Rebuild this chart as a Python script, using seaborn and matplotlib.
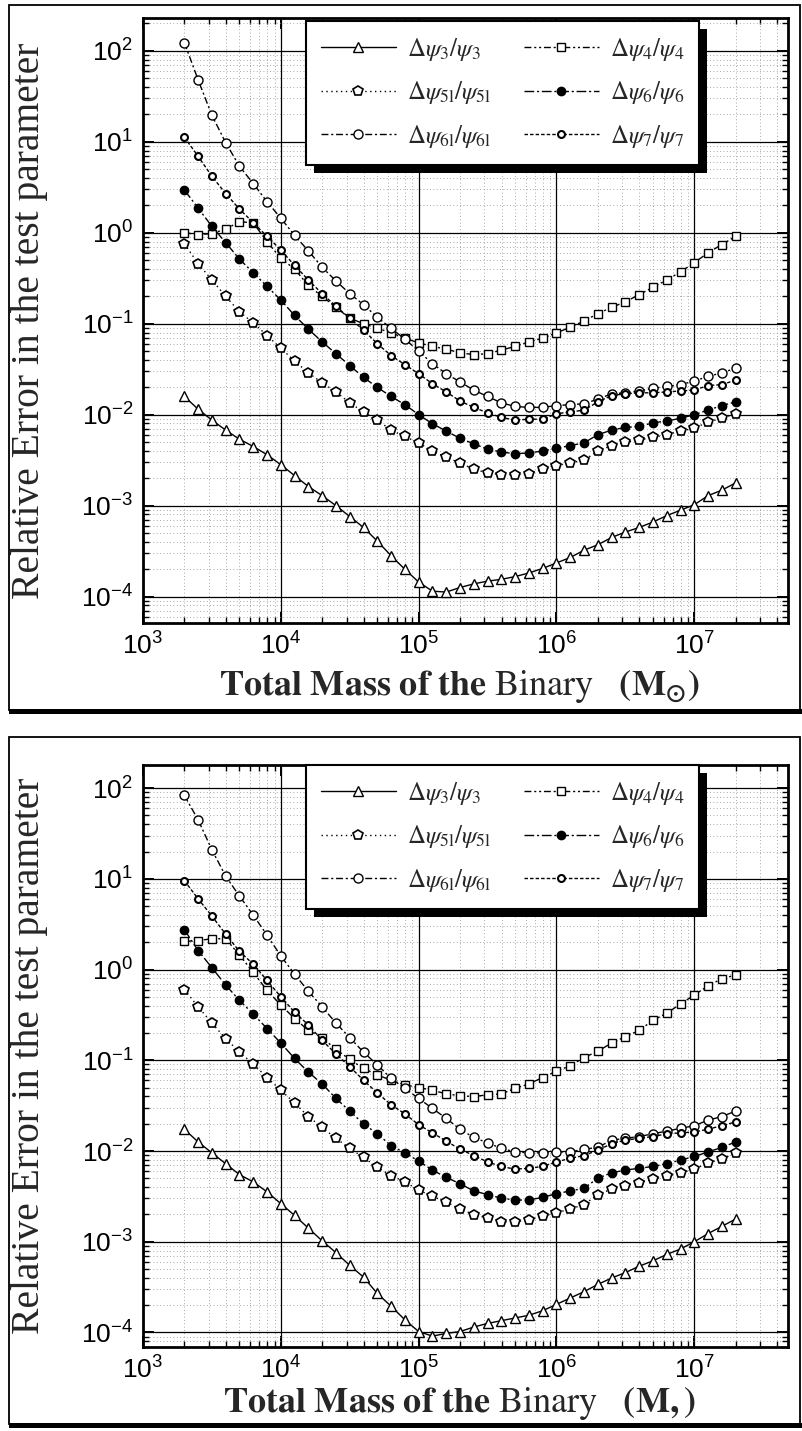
import numpy as np
import matplotlib
matplotlib.use("Agg")
import matplotlib.pyplot as plt
import seaborn as sns
from matplotlib.font_manager import FontProperties
from matplotlib.patches import Rectangle
from matplotlib.ticker import LogLocator, FixedLocator, FixedFormatter, NullFormatter

# ---------------- data (log10 of values) ----------------
mass_log10 = [3.3, 3.4, 3.5, 3.6, 3.7, 3.8, 3.9, 4.0, 4.1, 4.2, 4.3, 4.4, 4.5, 4.6,
              4.7, 4.8, 4.9, 5.0, 5.1, 5.2, 5.3, 5.4, 5.5, 5.6, 5.7, 5.8, 5.9, 6.0,
              6.1, 6.2, 6.3, 6.4, 6.5, 6.6, 6.7, 6.8, 6.9, 7.0, 7.1, 7.2, 7.3]

series_labels = [r"$\Delta\psi_3/\psi_3$", r"$\Delta\psi_4/\psi_4$",
                 r"$\Delta\psi_{5\mathrm{l}}/\psi_{5\mathrm{l}}$", r"$\Delta\psi_6/\psi_6$",
                 r"$\Delta\psi_{6\mathrm{l}}/\psi_{6\mathrm{l}}$", r"$\Delta\psi_7/\psi_7$"]

x_tick_values = [1e3, 1e4, 1e5, 1e6, 1e7]
x_tick_labels = [r"$10^{3}$", r"$10^{4}$", r"$10^{5}$", r"$10^{6}$", r"$10^{7}$"]
y_tick_values = [1e-4, 1e-3, 1e-2, 1e-1, 1e0, 1e1, 1e2]
y_tick_labels = [r"$10^{-4}$", r"$10^{-3}$", r"$10^{-2}$", r"$10^{-1}$", r"$10^{0}$", r"$10^{1}$", r"$10^{2}$"]

# top panel
psi3_top = [-1.80, -1.94, -2.06, -2.17, -2.27, -2.35, -2.44, -2.55, -2.67, -2.79, -2.89, -3.00, -3.12, -3.24,
            -3.39, -3.55, -3.70, -3.84, -3.94, -3.95, -3.90, -3.86, -3.83, -3.81, -3.78, -3.74, -3.69, -3.63,
            -3.57, -3.49, -3.43, -3.35, -3.29, -3.24, -3.18, -3.11, -3.05, -2.99, -2.89, -2.83, -2.75]
psi4_top = [0.00, -0.02, -0.01, 0.04, 0.12, 0.11, -0.10, -0.28, -0.40, -0.58, -0.70, -0.82, -0.94, -1.00,
            -1.05, -1.10, -1.16, -1.21, -1.25, -1.28, -1.32, -1.34, -1.33, -1.29, -1.25, -1.20, -1.16, -1.10,
            -1.04, -0.97, -0.89, -0.82, -0.76, -0.68, -0.60, -0.52, -0.43, -0.33, -0.22, -0.13, -0.04]
psi51_top = [-0.12, -0.34, -0.52, -0.70, -0.87, -0.99, -1.13, -1.27, -1.41, -1.54, -1.65, -1.75, -1.87, -1.97,
             -2.06, -2.17, -2.24, -2.31, -2.40, -2.47, -2.53, -2.60, -2.64, -2.66, -2.66, -2.65, -2.60, -2.56,
             -2.53, -2.50, -2.40, -2.34, -2.30, -2.28, -2.25, -2.22, -2.18, -2.15, -2.08, -2.04, -1.99]
psi6_top = [0.47, 0.27, 0.07, -0.11, -0.29, -0.44, -0.59, -0.74, -0.91, -1.06, -1.20, -1.33, -1.46, -1.59,
            -1.70, -1.80, -1.89, -2.00, -2.10, -2.18, -2.26, -2.32, -2.38, -2.41, -2.43, -2.42, -2.40, -2.37,
            -2.34, -2.31, -2.22, -2.17, -2.14, -2.13, -2.09, -2.07, -2.04, -2.00, -1.95, -1.90, -1.86]
psi61_top = [2.09, 1.68, 1.29, 0.99, 0.73, 0.54, 0.34, 0.16, -0.03, -0.20, -0.38, -0.53, -0.67, -0.79,
             -0.93, -1.05, -1.17, -1.30, -1.44, -1.55, -1.64, -1.73, -1.80, -1.87, -1.91, -1.92, -1.92, -1.90,
             -1.89, -1.88, -1.83, -1.77, -1.76, -1.74, -1.71, -1.69, -1.67, -1.63, -1.58, -1.54, -1.49]
psi7_top = [1.05, 0.84, 0.62, 0.43, 0.26, 0.11, -0.04, -0.19, -0.36, -0.52, -0.67, -0.81, -0.94, -1.07,
            -1.22, -1.35, -1.45, -1.55, -1.66, -1.75, -1.85, -1.92, -1.98, -2.03, -2.06, -2.05, -2.05, -1.99,
            -1.97, -1.95, -1.86, -1.79, -1.77, -1.76, -1.76, -1.75, -1.74, -1.73, -1.68, -1.67, -1.62]

# bottom panel
psi3_bot = [-1.76, -1.90, -2.02, -2.14, -2.26, -2.34, -2.45, -2.58, -2.71, -2.85, -2.99, -3.12, -3.26, -3.39,
            -3.57, -3.71, -3.86, -3.99, -4.04, -4.01, -3.99, -3.94, -3.90, -3.87, -3.84, -3.81, -3.76, -3.69,
            -3.62, -3.55, -3.47, -3.40, -3.34, -3.27, -3.21, -3.14, -3.08, -3.00, -2.91, -2.83, -2.75]
psi4_bot = [0.31, 0.32, 0.34, 0.34, 0.16, -0.03, -0.23, -0.39, -0.54, -0.67, -0.75, -0.88, -0.99, -1.09,
            -1.16, -1.22, -1.27, -1.30, -1.33, -1.37, -1.39, -1.40, -1.38, -1.37, -1.31, -1.26, -1.19, -1.12,
            -1.06, -0.97, -0.90, -0.81, -0.74, -0.67, -0.56, -0.48, -0.38, -0.28, -0.18, -0.10, -0.06]
psi51_bot = [-0.22, -0.41, -0.59, -0.76, -0.91, -1.04, -1.19, -1.33, -1.47, -1.62, -1.74, -1.86, -1.97, -2.07,
             -2.18, -2.27, -2.34, -2.43, -2.50, -2.56, -2.64, -2.70, -2.74, -2.78, -2.78, -2.76, -2.72, -2.68,
             -2.64, -2.59, -2.48, -2.42, -2.38, -2.35, -2.31, -2.28, -2.24, -2.20, -2.13, -2.09, -2.02]
psi6_bot = [0.44, 0.21, 0.02, -0.17, -0.34, -0.49, -0.65, -0.81, -0.98, -1.13, -1.26, -1.42, -1.56, -1.70,
            -1.81, -1.94, -2.02, -2.11, -2.21, -2.29, -2.36, -2.44, -2.48, -2.52, -2.54, -2.54, -2.51, -2.47,
            -2.44, -2.41, -2.30, -2.24, -2.21, -2.19, -2.17, -2.14, -2.10, -2.06, -2.01, -1.96, -1.90]
psi61_bot = [1.92, 1.65, 1.32, 1.03, 0.81, 0.60, 0.38, 0.15, -0.05, -0.24, -0.41, -0.59, -0.75, -0.91,
             -1.05, -1.20, -1.31, -1.42, -1.53, -1.64, -1.76, -1.85, -1.91, -1.97, -2.01, -2.02, -2.02, -2.01,
             -2.01, -1.98, -1.96, -1.88, -1.86, -1.84, -1.81, -1.78, -1.75, -1.72, -1.66, -1.62, -1.56]
psi7_bot = [0.98, 0.78, 0.59, 0.39, 0.20, 0.06, -0.12, -0.30, -0.47, -0.61, -0.78, -0.93, -1.07, -1.22,
            -1.36, -1.49, -1.59, -1.71, -1.80, -1.89, -1.98, -2.05, -2.12, -2.17, -2.20, -2.19, -2.17, -2.12,
            -2.08, -2.05, -1.99, -1.92, -1.88, -1.86, -1.84, -1.81, -1.80, -1.79, -1.76, -1.72, -1.68]

xlabel_units = [r"$\mathbf{(M_{\odot})}$", r"$\mathbf{(M,)}$"]

# ---------------- styling ----------------
sns.set_theme(style="ticks")
plt.rcParams["font.family"] = ["Liberation Sans", "DejaVu Sans"]
plt.rcParams["mathtext.fontset"] = "custom"
plt.rcParams["mathtext.rm"] = "Liberation Sans"
plt.rcParams["mathtext.it"] = "Liberation Sans:italic"
plt.rcParams["mathtext.bf"] = "Liberation Sans:bold"

styles = [
    dict(linestyle="-", marker="^", markersize=6.5, markerfacecolor="white", markeredgewidth=1.0),
    dict(linestyle=(0, (5, 2, 1.5, 2, 1.5, 2)), marker="s", markersize=5.5, markerfacecolor="white", markeredgewidth=1.0),
    dict(linestyle=(0, (1, 2.5)), marker="p", markersize=7, markerfacecolor="white", markeredgewidth=1.2),
    dict(linestyle=(0, (7, 2, 1.5, 2)), marker="o", markersize=6, markerfacecolor="black", markeredgewidth=1.0),
    dict(linestyle=(0, (5, 2, 1.5, 2)), marker="o", markersize=6.5, markerfacecolor="white", markeredgewidth=1.0),
    dict(linestyle=(0, (2.5, 1.5)), marker="o", markersize=5, markerfacecolor="white", markeredgewidth=1.5),
]

W, H = 802, 1431
fig = plt.figure(figsize=(W / 100, H / 100), dpi=100)
fig.patch.set_facecolor("white")

legend_prop = FontProperties(family="Liberation Serif", size=18, weight="bold", math_fontfamily="stix")
label_prop = FontProperties(family="Liberation Serif", size=28.5, math_fontfamily="stix")
xlabel_prop = FontProperties(family="Liberation Serif", size=26, math_fontfamily="stix")


def px_axes(left, top, right, bottom):
    return [left / W, 1 - bottom / H, (right - left) / W, (bottom - top) / H]


def draw_frame(top, bottom):
    # outer panel box with heavy bottom edge
    fig.patches.append(Rectangle((9 / W, 1 - bottom / H), (800 - 9) / W, (bottom - top) / H,
                                 transform=fig.transFigure, fill=False, edgecolor="black",
                                 linewidth=1.3, zorder=-5))
    fig.patches.append(Rectangle((9 / W, 1 - (bottom + 4) / H), (802 - 9) / W, 5 / H,
                                 transform=fig.transFigure, facecolor="black", edgecolor="none",
                                 zorder=-5))


def draw_panel(ax, data, units, ylim, legend_top):
    ax.set_xscale("log")
    ax.set_yscale("log")
    masses = [10 ** v for v in mass_log10]
    for vals, lbl, st in zip(data, series_labels, styles):
        sns.lineplot(x=masses, y=[10 ** v for v in vals], ax=ax, estimator=None, errorbar=None,
                     sort=False, color="black", linewidth=1.0, markeredgecolor="black",
                     label=lbl, zorder=3, **st)
    ax.set_xlim(1e3, 10 ** 7.68)
    ax.set_ylim(*ylim)

    ax.xaxis.set_major_locator(FixedLocator(x_tick_values))
    ax.xaxis.set_major_formatter(FixedFormatter(x_tick_labels))
    ax.yaxis.set_major_locator(FixedLocator(y_tick_values))
    ax.yaxis.set_major_formatter(FixedFormatter(y_tick_labels))
    ax.xaxis.set_minor_locator(LogLocator(base=10, subs=np.arange(2, 10), numticks=12))
    ax.yaxis.set_minor_locator(LogLocator(base=10, subs=np.arange(2, 10), numticks=12))
    ax.xaxis.set_minor_formatter(NullFormatter())
    ax.yaxis.set_minor_formatter(NullFormatter())

    ax.tick_params(which="both", direction="in", top=True, right=True, colors="black")
    ax.tick_params(which="major", length=8, width=1.4, labelsize=19, pad=7)
    ax.tick_params(which="minor", length=4.5, width=1.0)
    for s in ax.spines.values():
        s.set_linewidth(2.0)
        s.set_color("black")

    ax.grid(which="major", color="black", linewidth=0.9, linestyle="-", zorder=1)
    ax.grid(which="minor", color="0.55", linewidth=0.6, linestyle=(0, (1, 3)), zorder=1)
    ax.set_axisbelow(True)

    ax.set_ylabel("Relative Error in the test parameter", fontproperties=label_prop)
    ax.set_xlabel(r"$\mathbf{Total\ Mass\ of\ the}\ \mathrm{Binary}\ \ \ $" + units,
                  fontproperties=xlabel_prop)

    handles, labels = ax.get_legend_handles_labels()
    order = [0, 2, 4, 1, 3, 5]
    leg = ax.legend([handles[i] for i in order], [labels[i] for i in order], ncol=2,
                    loc="upper left", bbox_to_anchor=(0.252, legend_top), prop=legend_prop,
                    frameon=True, fancybox=False, framealpha=1, edgecolor="black",
                    handlelength=3.0, handletextpad=0.45, columnspacing=1.3, labelspacing=0.65,
                    borderpad=0.6, borderaxespad=0.0)
    leg.get_frame().set_linewidth(1.5)
    leg.set_zorder(6)
    return leg


# axes placement (pixels): top panel 18..623, bottom panel 765..1347
ax1 = fig.add_axes(px_axes(143, 18, 788, 623))
ax2 = fig.add_axes(px_axes(143, 765, 788, 1347))

draw_frame(5, 710)
draw_frame(737, 1424)

data_top = [psi3_top, psi4_top, psi51_top, psi6_top, psi61_top, psi7_top]
data_bot = [psi3_bot, psi4_bot, psi51_bot, psi6_bot, psi61_bot, psi7_bot]
leg1 = draw_panel(ax1, data_top, xlabel_units[0], (10 ** -4.29, 10 ** 2.36), 0.995)
leg2 = draw_panel(ax2, data_bot, xlabel_units[1], (10 ** -4.16, 10 ** 2.255), 1.0)
ax1.yaxis.set_label_coords(-0.148, 0.5)
ax2.yaxis.set_label_coords(-0.148, 0.5)
ax1.xaxis.set_label_coords(0.49, -0.075)
ax2.xaxis.set_label_coords(0.49, -0.066)

# legend drop shadows (black, offset down-right)
fig.canvas.draw()
for ax, leg in [(ax1, leg1), (ax2, leg2)]:
    bb = leg.get_window_extent()
    off = 8
    sh = Rectangle((bb.x0 + off, bb.y0 - off), bb.width, bb.height, transform=None,
                   facecolor="black", edgecolor="none", zorder=5.5, clip_on=False)
    ax.add_artist(sh)

fig.savefig("out.png", dpi=100, facecolor="white")
